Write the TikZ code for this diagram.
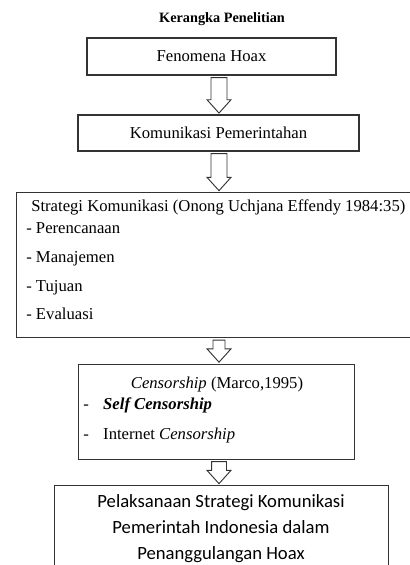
\documentclass[tikz,border=0pt]{standalone}
\usepackage{fontspec}
\setmainfont{Liberation Serif}
\newfontfamily\calibrifont{Carlito}
\usetikzlibrary{calc}

\tikzset{
  box/.style={draw=black!80, line width=0.9pt, inner sep=0pt},
  harrow/.style={draw=black!80, line width=0.7pt, fill=white},
  item/.style={anchor=base west, inner sep=0pt, font=\fontsize{12.5}{15}\selectfont},
  pline/.style={anchor=base, inner sep=0pt, font=\calibrifont\fontsize{14}{19.5}\selectfont},
}

% hollow block arrow from the bottom of #2 to the top of #3, shaft half width #1
\newcommand{\holarrow}[3][6pt]{%
  \draw[harrow] let \p1=(#2.south), \p2=(#3.north), \p3=(axis) in
    (\x3-#1,\y1-1.5pt) -- (\x3-#1,\y2+11pt) -- (\x3-9pt,\y2+11pt)
    -- (\x3,\y2+1pt) -- (\x3+9pt,\y2+11pt) -- (\x3+#1,\y2+11pt)
    -- (\x3+#1,\y1-1.5pt) -- cycle;}

\begin{document}
\begin{tikzpicture}[x=0.75pt,y=-0.75pt]
\clip (0,0) rectangle (410,565);
\coordinate (axis) at (219,0);

\node[inner sep=0pt, anchor=base] (title) at (222,22.5)
  {\fontsize{10.7}{12}\selectfont\bfseries Kerangka Penelitian};

\node[box, minimum width=186.75pt, minimum height=27.75pt,
  font=\fontsize{12.5}{15}\selectfont] (fenomena) at (211.5,56.5) {Fenomena Hoax};
\node[box, minimum width=210.75pt, minimum height=27pt,
  font=\fontsize{12.5}{15}\selectfont] (komunikasi) at (218.5,133) {Komunikasi Pemerintahan};

% strategi komunikasi
\node[box, anchor=north west, minimum width=303pt, minimum height=108.75pt] (strategi) at (16,192) {};
\node[item] (strat) at (31,211) {Strategi Komunikasi (Onong Uchjana Effendy 1984:35)};
\node[item] (s1) at (26,233.5) {- Perencanaan};
\node[item] (s2) at (26,262.5) {- Manajemen};
\node[item] (s3) at (26,291.5) {- Tujuan};
\node[item] (s4) at (26,319.5) {- Evaluasi};

% censorship
\node[box, anchor=north west, minimum width=207pt, minimum height=71.25pt] (censor) at (78,363.5) {};
\node[item, anchor=base] (cens) at (217,388.5) {\textit{Censorship} (Marco,1995)};
\node[item] (c1) at (83,409.5) {-\hspace{10.8pt}\textbf{\textit{Self Censorship}}};
\node[item] (c2) at (83,439.5) {-\hspace{10.8pt}Internet \textit{Censorship}};

% pelaksanaan
\node[box, anchor=north west, minimum width=250.5pt, minimum height=90pt] (pelaksanaan) at (54,485) {};
\node[pline] (p1) at (221,507.6) {Pelaksanaan Strategi Komunikasi};
\node[pline] (p2) at (221,533.6) {Pemerintah Indonesia dalam};
\node[pline] (p3) at (221,559.6) {Penanggulangan Hoax};

\holarrow{fenomena}{komunikasi}
\holarrow{komunikasi}{strategi}
\holarrow[4.5pt]{strategi}{censor}
\holarrow[5.6pt]{censor}{pelaksanaan}
\end{tikzpicture}
\end{document}
